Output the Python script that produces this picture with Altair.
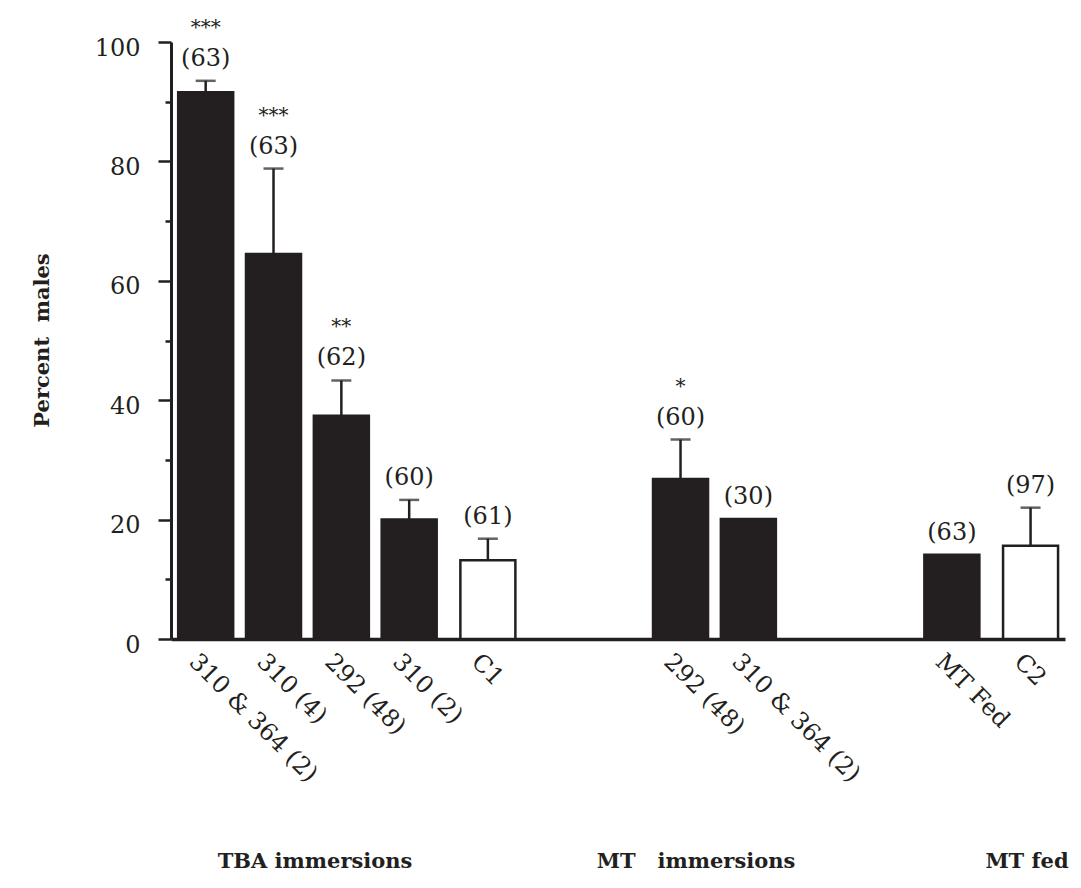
import altair as alt
import pandas as pd

# ---- data ----
labels = ["310 & 364 (2)", "310 (4)", "292 (48)", "310 (2)", "C1",
          "292 (48)", "310 & 364 (2)", "MT Fed", "C2"]
groups = ["TBA immersions"] * 5 + ["MT\u00a0\u00a0\u00a0immersions"] * 2 + ["MT fed"] * 2
values = [91.6, 64.5, 37.4, 20.0, 13.2, 26.8, 20.1, 14.1, 15.6]
errors = [1.9, 14.3, 5.9, 3.3, 3.6, 6.6, 0.0, 0.0, 6.4]
n_sizes = [63, 63, 62, 60, 61, 60, 30, 63, 97]
stars = ["***", "***", "**", "", "", "*", "", "", ""]
is_control = [False, False, False, False, True, False, False, False, True]

group_names = ["TBA immersions", "MT\u00a0\u00a0\u00a0immersions", "MT fed"]

# ---- layout helpers (slots along x) ----
GAP = 2
CONTROL_SHIFT = 0.16
pos = []
slot = 0
prev = None
for g, c in zip(groups, is_control):
    if prev is not None and g != prev:
        slot += GAP
    pos.append(slot + (CONTROL_SHIFT if c else 0.0))
    slot += 1
    prev = g

df = pd.DataFrame({
    "pos": pos,
    "label": labels,
    "group": groups,
    "value": values,
    "err": errors,
    "top": [v + e for v, e in zip(values, errors)],
    "n_label": [f"({n})" for n in n_sizes],
    "stars": stars,
    "kind": ["control" if c else "treated" for c in is_control],
})

INK = "#231f20"
FONT = "DejaVu Serif"
W, H = 894, 597

xscale = alt.Scale(domain=[-0.4375, 12.594], nice=False, zero=False)
yscale = alt.Scale(domain=[0, 100], nice=False)

x_axis = alt.Axis(ticks=False, labels=False, title=None, grid=False,
                  domainWidth=3.5, domainColor=INK)
y_axis = alt.Axis(
    values=list(range(0, 101, 10)),
    labelExpr="datum.value % 20 === 0 ? datum.label : ''",
    tickSize={"condition": {"test": "datum.value % 20 !== 0", "value": 6}, "value": 13},
    tickWidth=2.5, tickColor=INK,
    domainWidth=3, domainColor=INK,
    labelFont=FONT, labelFontSize=24, labelColor=INK, labelPadding=18,
    labelOffset=6,
    grid=False,
    title="Percent\u00a0\u00a0males", titleFont=FONT, titleFontSize=21,
    titleFontWeight="bold", titleColor=INK,
    titleAngle=-90, titleX=-129, titleY=298,
    titleAlign="center", titleBaseline="middle",
)

base = alt.Chart(df)
X = alt.X("pos:Q", scale=xscale, axis=x_axis)

bars = base.mark_bar(size=55, stroke=INK, strokeWidth=2.5).encode(
    x=X,
    y=alt.Y("value:Q", scale=yscale, axis=y_axis),
    fill=alt.Fill("kind:N",
                  scale=alt.Scale(domain=["treated", "control"], range=[INK, "white"]),
                  legend=None),
)

err_rule = base.transform_filter("datum.err > 0").mark_rule(
    color=INK, strokeWidth=2.5).encode(x="pos:Q", y="value:Q", y2="top:Q")

caps = base.transform_filter("datum.err > 0").mark_tick(
    orient="horizontal", size=20, thickness=2.5, color=INK).encode(
    x="pos:Q", y="top:Q")

n_text = base.mark_text(font=FONT, fontSize=24, color=INK,
                        baseline="alphabetic", dy=-15).encode(
    x="pos:Q", y="top:Q", text="n_label:N")

star_text = base.mark_text(font=FONT, fontSize=20, color=INK,
                           baseline="alphabetic", dy=-47).encode(
    x="pos:Q", y="top:Q", text="stars:N")

x_labels = base.mark_text(font=FONT, fontSize=24, color=INK, angle=45,
                          align="left", baseline="top", dx=-6).encode(
    x="pos:Q", y=alt.value(H + 15), text="label:N")

title_px = [144, 525, 856]
group_titles = [
    alt.Chart(pd.DataFrame({"t": [name]})).mark_text(
        font=FONT, fontSize=21, fontWeight="bold", color=INK,
        align="center", baseline="middle").encode(
        x=alt.value(px), y=alt.value(820), text="t:N")
    for name, px in zip(group_names, title_px)
]

chart = alt.layer(bars, err_rule, caps, n_text, star_text, x_labels, *group_titles).properties(
    width=W, height=H,
    autosize=alt.AutoSizeParams(type="none"),
    padding={"left": 163, "top": 34, "right": 8, "bottom": 240},
).configure_view(stroke=None)

chart.save("out.html", embed_options={"renderer": "svg", "actions": False})
